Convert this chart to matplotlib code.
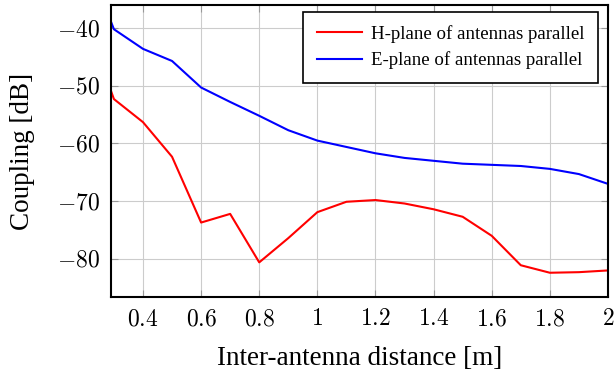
import matplotlib
matplotlib.use("Agg")
import matplotlib.pyplot as plt

distance = [0.29, 0.3, 0.4, 0.5, 0.6, 0.7, 0.8, 0.9, 1.0, 1.1, 1.2, 1.3, 1.4, 1.5, 1.6, 1.7, 1.8, 1.9, 2.0]
h_plane = [-50.9, -52.3, -56.3, -62.3, -73.7, -72.2, -80.6, -76.4, -71.9, -70.1, -69.8, -70.4, -71.4, -72.7, -76.0, -81.1, -82.4, -82.3, -82.0]
e_plane = [-38.9, -40.2, -43.6, -45.7, -50.3, -52.8, -55.2, -57.7, -59.5, -60.6, -61.7, -62.5, -63.0, -63.5, -63.7, -63.9, -64.4, -65.3, -67.0]
x_ticks = [0.4, 0.6, 0.8, 1.0, 1.2, 1.4, 1.6, 1.8, 2.0]
x_ticklabels = ["0.4", "0.6", "0.8", "1", "1.2", "1.4", "1.6", "1.8", "2"]
y_ticks = [-80, -70, -60, -50, -40]
y_ticklabels = ["-80", "-70", "-60", "-50", "-40"]

plt.rcParams['font.family'] = ['Liberation Serif', 'DejaVu Serif']
plt.rcParams['mathtext.fontset'] = 'cm'

fig = plt.figure(figsize=(6.15, 3.79), dpi=100)
ax = fig.add_axes([0.1805, 0.2164, 0.9886 - 0.1805, 0.9868 - 0.2164])

ax.plot(distance, h_plane, color='#ff0000', lw=1.5, label='H-plane of antennas parallel')
ax.plot(distance, e_plane, color='#0000ff', lw=1.5, label='E-plane of antennas parallel')

ax.set_xlim(0.29, 2.0)
ax.set_ylim(-86.6, -36.0)
ax.set_xticks(x_ticks)
ax.set_xticklabels(["$" + t + "$" for t in x_ticklabels])
ax.set_yticks(y_ticks)
ax.set_yticklabels(["$" + t + "$" for t in y_ticklabels])
ax.tick_params(direction='in', top=True, right=True, length=5, width=0.8, color='#999999', labelsize=17)
ax.tick_params(axis='x', pad=9)
ax.tick_params(axis='y', pad=8)
ax.grid(True, color='#cccccc', lw=0.8)
for s in ax.spines.values():
    s.set_linewidth(1.5)
    s.set_color('black')

ax.set_xlabel('Inter-antenna distance [m]', fontsize=19.5, labelpad=11)
ax.set_ylabel('Coupling [dB]', fontsize=19.5, labelpad=16)

leg = ax.legend(loc='upper right', fontsize=13.6, fancybox=False, framealpha=1,
                edgecolor='black', handlelength=2.4, handletextpad=0.5, borderpad=0.7,
                labelspacing=0.45, borderaxespad=0, bbox_to_anchor=(0.98, 0.976))
leg.get_frame().set_linewidth(1.2)

fig.savefig('out.png', dpi=100)
